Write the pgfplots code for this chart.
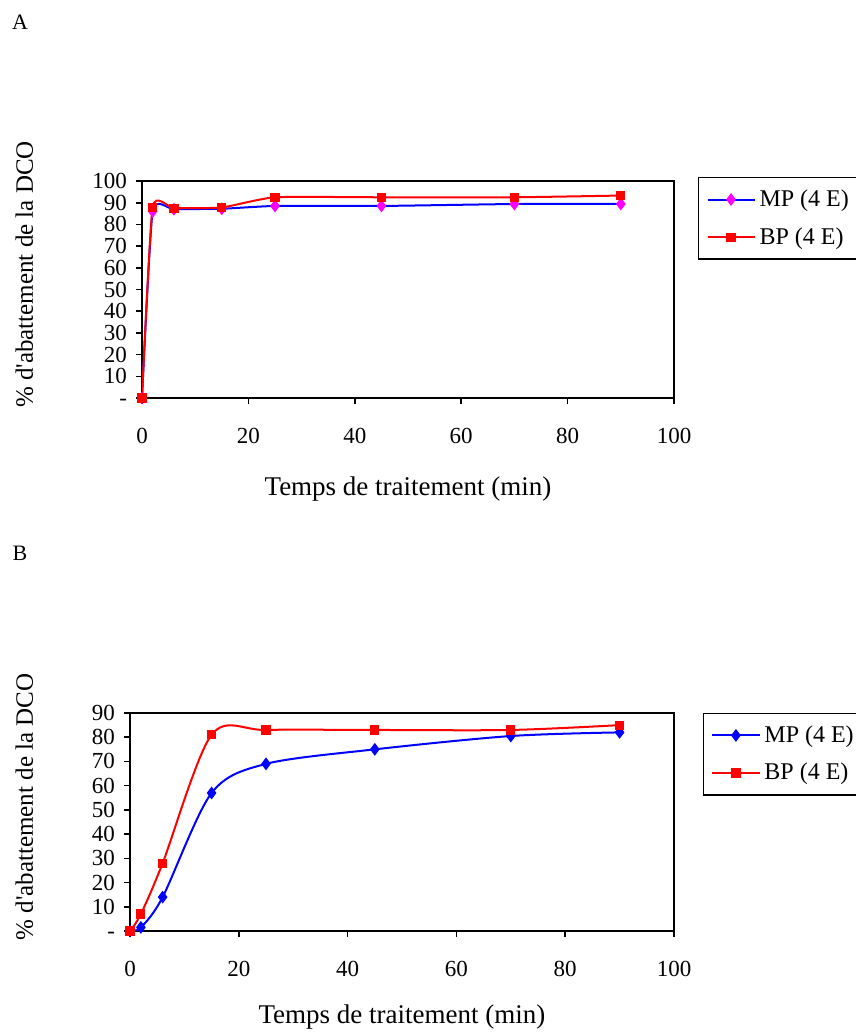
\documentclass[border=0pt]{standalone}
\usepackage{fontspec}
\setmainfont{Liberation Serif}
\usepackage{pgfplots}
\pgfplotsset{compat=1.18}
\definecolor{xlred}{RGB}{255,0,0}
\definecolor{xlblue}{RGB}{0,0,255}
\definecolor{xlmag}{RGB}{255,0,255}
\pgfplotsset{
  panel/.style={
    scale only axis,
    axis line style={line width=0.8pt, black},
    tick style={line width=0.8pt, black},
    tick align=outside,
    major tick length=3pt,
    xtick pos=left, ytick pos=left,
    xmin=0, xmax=100, xtick={0,20,40,60,80,100},
    /pgf/number format/assume math mode=true,
    ticklabel style={font=\fontsize{11.5}{13}\selectfont},
    xticklabel style={yshift=-8.5pt},
    yticklabel style={xshift=-1pt, inner ysep=0.5pt, text height=7.5pt, text depth=0pt},
    label style={font=\fontsize{13.5}{16}\selectfont},
    xlabel={Temps de traitement (min)},
    ylabel={\% d\textquotesingle abattement de la DCO},
    legend cell align=left,
    legend style={draw=black, line width=0.6pt, font=\fontsize{12}{14}\selectfont,
      row sep=5pt, inner xsep=4pt, inner ysep=4pt, anchor=north west},
    legend image code/.code={\draw[mark repeat=2,mark phase=2,#1] plot coordinates {(0pt,0pt) (11.75pt,0pt) (23.5pt,0pt)};},
  }
}
\begin{document}
\begin{tikzpicture}
\path[use as bounding box] (0,0) rectangle (428pt,-516.5pt);
\node[font=\fontsize{11}{13}\selectfont] at (10pt,-11pt) {A};
\node[font=\fontsize{11}{13}\selectfont] at (10pt,-276.5pt) {B};

\begin{axis}[panel,
  at={(71pt,-199pt)}, anchor=south west, width=266pt, height=108.5pt,
  ymin=0, ymax=100, ytick={0,10,20,30,40,50,60,70,80,90,100},
  yticklabels={-,10,20,30,40,50,60,70,80,90,100},
  xlabel style={at={(axis description cs:0.5,0)}, anchor=base, yshift=-48.5pt},
  ylabel style={at={(axis description cs:0,0.5)}, anchor=base, yshift=54.5pt, xshift=7.5pt, font=\fontsize{12.5}{15}\selectfont},
  legend style={at={(axis description cs:1.045,1.018)}},
]
\addplot[xlblue, line width=1pt, smooth, tension=0.3, mark=diamond*, mark size=2.4pt,
  mark options={solid, draw=xlmag, fill=xlmag}]
  coordinates {(0,0) (2,86) (6,87) (15,87.2) (25,88.5) (45,88.5) (70,89.4) (90,89.4)};
\addplot[xlred, line width=1pt, smooth, tension=0.3, mark=square*, mark size=1.8pt,
  mark options={solid, draw=xlred, fill=xlred}]
  coordinates {(0,0) (2,87.9) (6,87.5) (15,87.8) (25,92.5) (45,92.5) (70,92.5) (90,93.3)};
\legend{MP (4 E), BP (4 E)}
\end{axis}

\begin{axis}[panel,
  at={(65pt,-465.5pt)}, anchor=south west, width=272pt, height=109pt,
  ymin=0, ymax=90, ytick={0,10,20,30,40,50,60,70,80,90},
  yticklabels={-,10,20,30,40,50,60,70,80,90},
  xlabel style={at={(axis description cs:0.5,0)}, anchor=base, yshift=-46pt},
  ylabel style={at={(axis description cs:0,0.5)}, anchor=base, yshift=48.5pt, xshift=7.5pt, font=\fontsize{12.5}{15}\selectfont},
  legend style={at={(axis description cs:1.053,1.0)}},
]
\addplot[xlblue, line width=1pt, smooth, mark=diamond*, mark size=2.4pt,
  mark options={solid, draw=xlblue, fill=xlblue}]
  coordinates {(0,0) (2,1.5) (6,14) (15,57) (25,69) (45,75) (70,80.5) (90,82)};
\addplot[xlred, line width=1pt, smooth, mark=square*, mark size=1.8pt,
  mark options={solid, draw=xlred, fill=xlred}]
  coordinates {(0,0) (2,7) (6,28) (15,81) (25,83) (45,83) (70,83) (90,85)};
\legend{MP (4 E), BP (4 E)}
\end{axis}
\end{tikzpicture}
\end{document}
